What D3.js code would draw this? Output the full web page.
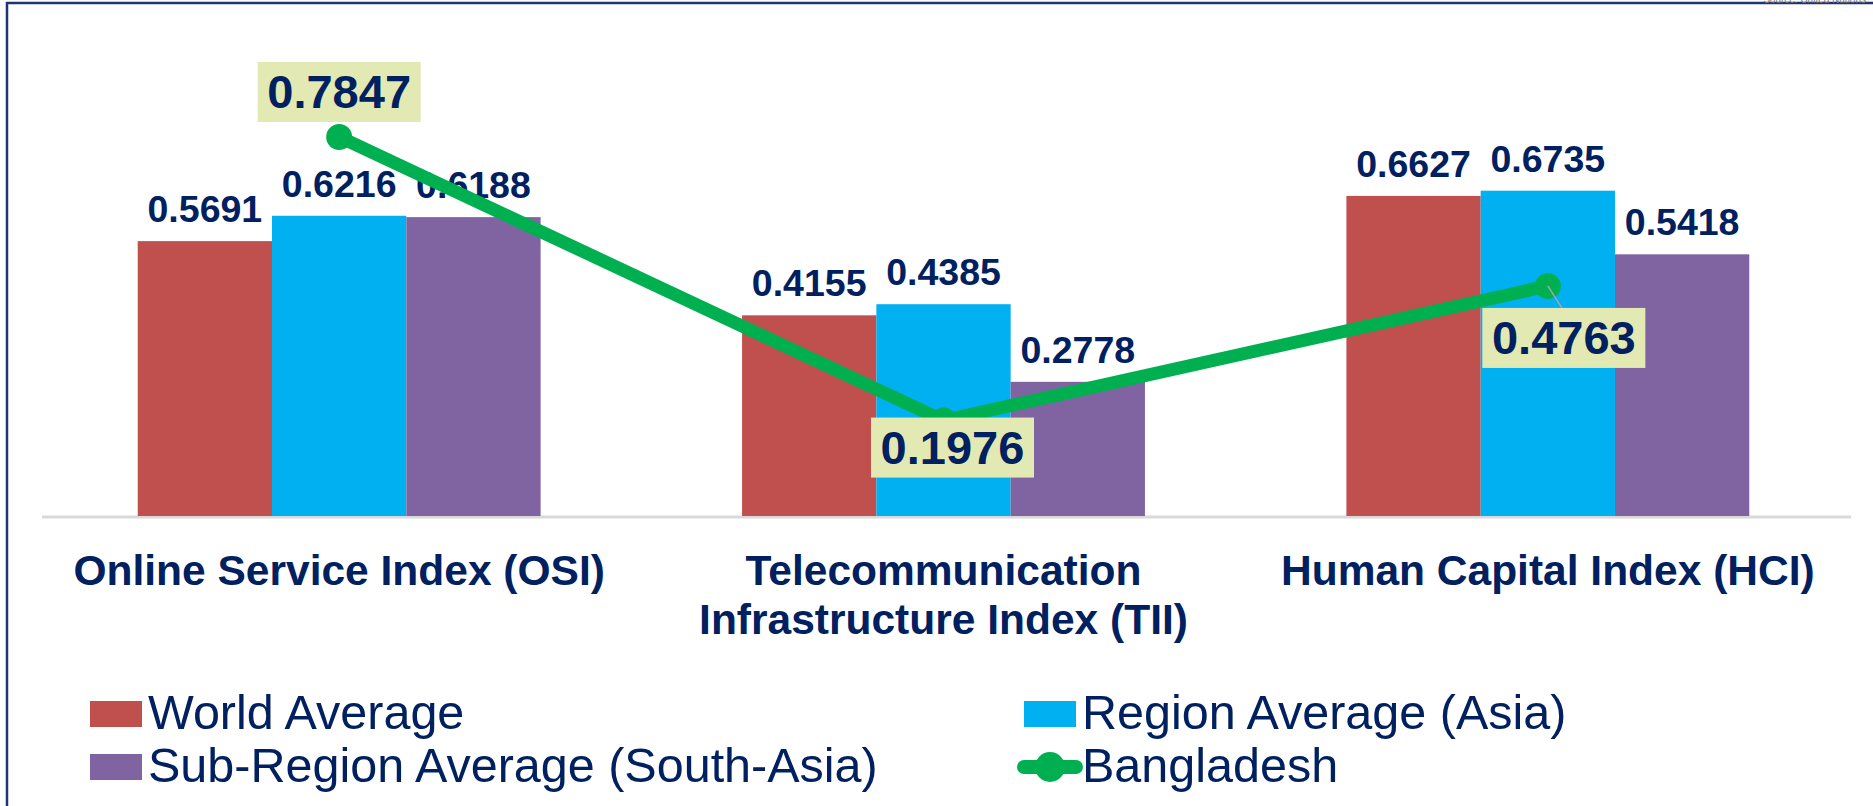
<!DOCTYPE html>
<html>
<head>
<meta charset="utf-8">
<script src="https://cdn.jsdelivr.net/npm/d3@7"></script>
<style>
  body { margin: 0; background: #fff; }
  text { font-family: "Liberation Sans", Arial, sans-serif; fill: #002060; }
</style>
</head>
<body>
<script>
/////////////////////////////////////////////////
// data
/////////////////////////////////////////////////
var categories = ["OSI", "TII", "HCI"];
var categoryLabels = [
  ["Online Service Index (OSI)"],
  ["Telecommunication", "Infrastructure Index (TII)"],
  ["Human Capital Index (HCI)"]
];
var seriesNames = ["World Average", "Region Average (Asia)", "Sub-Region Average (South-Asia)"];
var worldAvg     = [0.5691, 0.4155, 0.6627];
var regionAvg    = [0.6216, 0.4385, 0.6735];
var subRegionAvg = [0.6188, 0.2778, 0.5418];
var bangladesh   = [0.7847, 0.1976, 0.4763];
var lineName     = "Bangladesh";

/////////////////////////////////////////////////
// locals
/////////////////////////////////////////////////
var width  = 1873,
    height = 806;
var colors    = ["#c0504d", "#00b0f0", "#8064a2"];
var green     = "#00b050";
var boxFill   = "#e3e9b3";

// where the Bangladesh callouts sit relative to their points
var callouts = [
  { dx: 0,  dy: -75 },
  { dx: 9,  dy: -3 },
  { dx: 16, dy: 22 }
];

var svg = d3.select("body").append("svg")
    .attr("width", width)
    .attr("height", height);

// frame
svg.append("rect")
  .attr("x", 7).attr("y", 3)
  .attr("width", width + 20).attr("height", height + 20)
  .attr("fill", "none")
  .attr("stroke", "#1f3470")
  .attr("stroke-width", 2.5);

svg.append("text")
  .attr("x", 1866).attr("y", 3)
  .attr("text-anchor", "end")
  .style("font-size", "10px")
  .style("fill", "#777")
  .text("Source: United Nations");

var x0 = d3.scaleBand().domain(categories).range([37, 1850]).padding(0);
var bw = x0.bandwidth();
var x1 = d3.scaleBand().domain(d3.range(3)).range([bw / 6, bw * 5 / 6]).padding(0);
var y  = d3.scaleLinear().domain([0, 1]).range([516, 33]);

var rows = categories.map(function(c, i) {
  return { cat: c, values: [worldAvg[i], regionAvg[i], subRegionAvg[i]] };
});

// baseline
svg.append("line")
  .attr("x1", 42).attr("x2", 1851)
  .attr("y1", y(0) + 1).attr("y2", y(0) + 1)
  .attr("stroke", "#d9d9d9")
  .attr("stroke-width", 3);

// bars
var groups = svg.selectAll("g.cat").data(rows).enter().append("g")
  .attr("class", "cat")
  .attr("transform", function(d) { return "translate(" + x0(d.cat) + ",0)"; });

groups.selectAll("rect").data(function(d) { return d.values; }).enter().append("rect")
  .attr("x", function(d, i) { return x1(i); })
  .attr("y", function(d) { return y(d); })
  .attr("width", x1.bandwidth())
  .attr("height", function(d) { return y(0) - y(d); })
  .attr("fill", function(d, i) { return colors[i]; });

groups.selectAll("text.val").data(function(d) { return d.values; }).enter().append("text")
  .attr("class", "val")
  .attr("x", function(d, i) { return x1(i) + x1.bandwidth() / 2; })
  .attr("y", function(d) { return y(d) - 19; })
  .attr("text-anchor", "middle")
  .style("font-size", "37.5px")
  .style("font-weight", "bold")
  .text(function(d) { return d.toFixed(4); });

// category labels
var cx = function(c) { return x0(c) + bw / 2; };
categories.forEach(function(c, i) {
  var t = svg.append("text")
    .attr("text-anchor", "middle")
    .style("font-size", "42.5px")
    .style("font-weight", "bold");
  categoryLabels[i].forEach(function(line, j) {
    t.append("tspan").attr("x", cx(c)).attr("y", 585 + j * 49).text(line);
  });
});

// Bangladesh line
var pts = categories.map(function(c, i) { return [cx(c), y(bangladesh[i])]; });

svg.append("path")
  .attr("d", d3.line()(pts))
  .attr("fill", "none")
  .attr("stroke", green)
  .attr("stroke-width", 13)
  .attr("stroke-linejoin", "round");

svg.selectAll("circle.pt").data(pts).enter().append("circle")
  .attr("class", "pt")
  .attr("cx", function(d) { return d[0]; })
  .attr("cy", function(d) { return d[1]; })
  .attr("r", 13)
  .attr("fill", green);

// callouts
var boxW = 163, boxH = 60;
pts.forEach(function(p, i) {
  var bx = p[0] + callouts[i].dx - boxW / 2,
      by = p[1] + callouts[i].dy;
  if (i === 2) {
    svg.append("line")
      .attr("x1", p[0]).attr("y1", p[1])
      .attr("x2", p[0] + 14).attr("y2", by)
      .attr("stroke", "#a6a6a6").attr("stroke-width", 1.5);
  }
  svg.append("rect")
    .attr("x", bx).attr("y", by)
    .attr("width", boxW).attr("height", boxH)
    .attr("fill", boxFill);
  svg.append("text")
    .attr("x", bx + boxW / 2)
    .attr("y", by + boxH / 2 + 16)
    .attr("text-anchor", "middle")
    .style("font-size", "47px")
    .style("font-weight", "bold")
    .text(bangladesh[i].toFixed(4));
});

// legend
var legendItems = [
  { name: seriesNames[0], color: colors[0], x: 90,   base: 729 },
  { name: seriesNames[1], color: colors[1], x: 1024, base: 729 },
  { name: seriesNames[2], color: colors[2], x: 90,   base: 782 },
  { name: lineName,       color: green,     x: 1024, base: 782, line: true }
];

legendItems.forEach(function(d) {
  if (d.line) {
    svg.append("line")
      .attr("x1", d.x).attr("x2", d.x + 52)
      .attr("y1", d.base - 15).attr("y2", d.base - 15)
      .attr("stroke", d.color).attr("stroke-width", 14)
      .attr("stroke-linecap", "round");
    svg.append("circle")
      .attr("cx", d.x + 26).attr("cy", d.base - 15)
      .attr("r", 15).attr("fill", d.color);
  } else {
    svg.append("rect")
      .attr("x", d.x).attr("y", d.base - 28)
      .attr("width", 52).attr("height", 26)
      .attr("fill", d.color);
  }
  svg.append("text")
    .attr("x", d.x + 58)
    .attr("y", d.base)
    .style("font-size", "48.5px")
    .text(d.name);
});
</script>
</body>
</html>
